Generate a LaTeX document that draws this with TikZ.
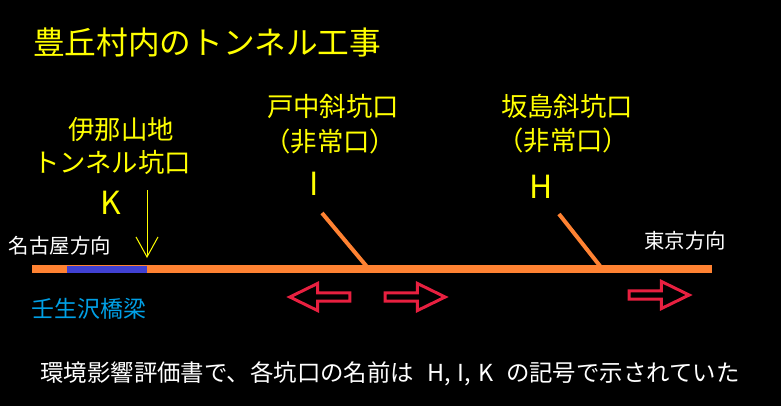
\documentclass[tikz,border=0pt]{standalone}
\usepackage{fontspec}
\setmainfont{Noto Sans CJK JP}
\usetikzlibrary{arrows.meta,shapes.arrows}
\definecolor{tyellow}{RGB}{255,255,0}
\definecolor{torange}{RGB}{255,130,50}
\definecolor{tblue}{RGB}{64,64,210}
\definecolor{bridgeblue}{RGB}{0,160,230}
\definecolor{tred}{RGB}{232,32,64}
\begin{document}
\begin{tikzpicture}[x=1bp,y=-1bp,
	ylbl/.style={text=tyellow,inner sep=0pt,font=\fontsize{26.5}{30}\selectfont},
	letter/.style={text=tyellow,inner sep=0pt,font=\fontsize{32}{36}\selectfont},
	wlbl/.style={text=white,inner sep=0pt,font=\fontsize{20.5}{24}\selectfont},
	rail/.style={line width=8bp,torange},
	redarrow/.style={single arrow,draw=tred,line width=3bp,inner sep=0pt,
		minimum height=60bp,minimum width=27bp,single arrow head extend=3.5bp,
		single arrow tip angle=52}]
	\fill[black] (0,0) rectangle (781,406);
	\useasboundingbox (0,0) rectangle (781,406);
	% title
	\node[ylbl,anchor=west,font=\fontsize{31.8}{34}\selectfont] (title) at (33,42) {豊丘村内のトンネル工事};
	% main line
	\coordinate (west) at (32,269);
	\coordinate (east) at (712,269);
	\coordinate (bridgeW) at (67,269);
	\coordinate (bridgeE) at (147,269);
	\draw[rail] (west)--(east);
	\draw[line width=7bp,tblue] (bridgeW)--(bridgeE);
	% K portal
	\node[ylbl] (mtn) at (121,129) {伊那山地};
	\node[ylbl] (tunnel) at (112,162) {トンネル坑口};
	\node[letter] (K) at (111,203) {K};
	\coordinate (kTop) at (147,190);
	\coordinate (kTip) at (147,258);
	\draw[tyellow,line width=1bp,-{Straight Barb[length=20bp,width=22bp]}] (kTop)--(kTip);
	\node[wlbl] (nagoya) at (60,246) {名古屋方向};
	\node[text=bridgeblue,inner sep=0pt,font=\fontsize{23}{26}\selectfont] (bridge) at (89,309) {壬生沢橋梁};
	% I portal
	\node[ylbl] (toyo) at (333,107) {戸中斜坑口};
	\node[ylbl,anchor=west] (toyoE) at (264,141) {（非常口）};
	\node[letter] (I) at (314,184) {I};
	\coordinate (iTop) at (322,213);
	\coordinate (iFoot) at (368,268);
	\draw[torange,line width=4bp] (iTop)--(iFoot);
	% H portal
	\node[ylbl] (saka) at (567,106) {坂島斜坑口};
	\node[ylbl,anchor=west] (sakaE) at (497,140) {（非常口）};
	\node[letter] (H) at (541,187) {H};
	\coordinate (hTop) at (559,214);
	\coordinate (hFoot) at (600,266);
	\draw[torange,line width=4bp] (hTop)--(hFoot);
	\node[wlbl] (tokyo) at (685,241) {東京方向};
	% direction arrows
	\node[redarrow,shape border rotate=180] (arrL) at (324,297) {};
	\node[redarrow] (arrR) at (411,297) {};
	\node[redarrow] (arrE) at (655,295) {};
	% note
	\node[text=white,inner sep=0pt,font=\fontsize{23.5}{27}\selectfont] (note) at (390,374)
		{環境影響評価書で、各坑口の名前は\hspace{13bp}H,\hspace{7bp}I,\hspace{7bp}K\hspace{13bp}の記号で示されていた};
\end{tikzpicture}
\end{document}
